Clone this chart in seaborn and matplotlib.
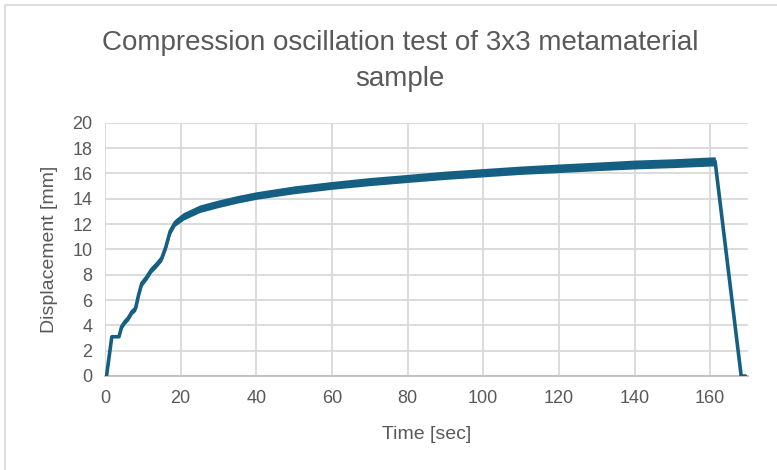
import matplotlib
matplotlib.use("Agg")
import matplotlib.pyplot as plt
import pandas as pd
import seaborn as sns

# ---- data ----
time_s = [0, 0.4, 1.8, 3.7, 4.4, 5.3, 6.2, 7.2, 8.1, 8.8, 9.7, 11.0, 12.3, 13.6,
          15.0, 16.1, 17.2, 18.5, 20.7, 25, 30, 35, 40, 50, 60, 70, 80, 90, 100,
          110, 120, 130, 140, 150, 161.3, 168.2, 169.3]
displacement_mm = [0, 0, 3.1, 3.1, 3.9, 4.3, 4.6, 5.1, 5.35, 6.3, 7.3, 7.8, 8.4, 8.8,
                   9.3, 10.2, 11.4, 12.1, 12.6, 13.2, 13.6, 13.95, 14.25, 14.7, 15.05,
                   15.35, 15.6, 15.85, 16.05, 16.25, 16.4, 16.55, 16.7, 16.8, 16.95, 0, 0]
# half-width of the oscillation band around the mean displacement
oscillation_mm = [0, 0, 0, 0, 0.22, 0.22, 0.23, 0.23, 0.24, 0.24, 0.24, 0.25, 0.25, 0.25,
                  0.26, 0.26, 0.27, 0.28, 0.3, 0.3, 0.3, 0.3, 0.3, 0.31, 0.31,
                  0.32, 0.32, 0.33, 0.33, 0.33, 0.34, 0.34, 0.35, 0.35, 0.36, 0, 0]
x_ticks = [0, 20, 40, 60, 80, 100, 120, 140, 160]
y_ticks = [0, 2, 4, 6, 8, 10, 12, 14, 16, 18, 20]

title_lines = ["Compression oscillation test of 3x3 metamaterial", "sample"]
x_label = "Time [sec]"
y_label = "Displacement [mm]"

df = pd.DataFrame({"t": time_s, "d": displacement_mm, "a": oscillation_mm})

sns.set_theme(style="whitegrid")
plt.rcParams["font.family"] = ["Liberation Sans", "DejaVu Sans"]

TXT = "#595959"
LINE = "#156082"
GRID = "#D9D9D9"

fig = plt.figure(figsize=(7.77, 4.70), dpi=100)
ax = fig.add_axes([105 / 777, 1 - 376 / 470, (748 - 105) / 777, (376 - 122.7) / 470])

ax.fill_between(df["t"], df["d"] - df["a"], df["d"] + df["a"], color=LINE, lw=0, zorder=3)
sns.lineplot(data=df, x="t", y="d", ax=ax, color=LINE, linewidth=2.6, zorder=4,
             estimator=None, sort=False)

ax.set_xlim(0, 170)
ax.set_ylim(0, 20)
ax.set_xticks(x_ticks)
ax.set_yticks(y_ticks)
ax.grid(True, color=GRID, linewidth=1.3)
ax.set_axisbelow(True)
for s in ["top", "right", "left"]:
    ax.spines[s].set_visible(False)
ax.spines["bottom"].set_color("#BFBFBF")
ax.spines["bottom"].set_linewidth(1.3)
ax.spines["bottom"].set_zorder(2)
ax.tick_params(axis="x", length=0, labelsize=13, labelcolor=TXT, pad=10)
ax.tick_params(axis="y", length=0, labelsize=13, labelcolor=TXT, pad=9)
ax.set_xlabel(x_label, fontsize=14, color=TXT, labelpad=14)
ax.set_ylabel(y_label, fontsize=14, color=TXT, labelpad=10)
ax.set_facecolor("white")

fig.text(400 / 777, 1 - 50 / 470, title_lines[0], ha="center", va="baseline",
         fontsize=20, color=TXT)
fig.text(400 / 777, 1 - 86 / 470, title_lines[1], ha="center", va="baseline",
         fontsize=20, color=TXT)

fig.patches.append(plt.Rectangle((5 / 777, -0.05), 1.1, 1 - 5 / 470 + 0.05,
                                 transform=fig.transFigure, fill=False,
                                 edgecolor="#D9D9D9", linewidth=1.2))

fig.savefig("out.png", dpi=100, facecolor="white")
